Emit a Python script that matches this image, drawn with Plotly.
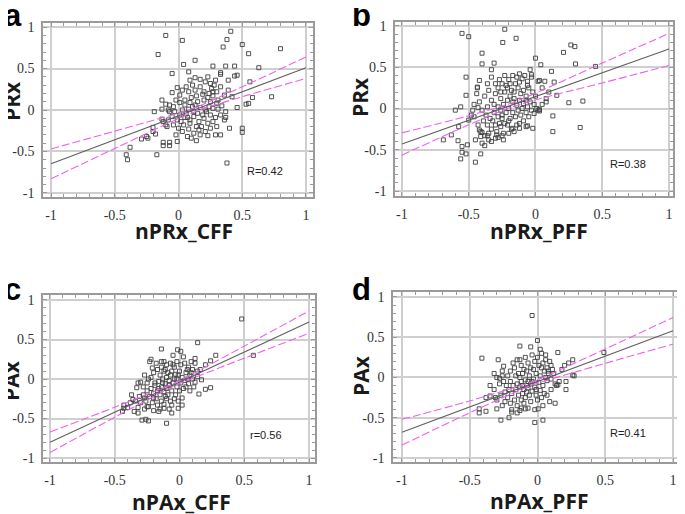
import plotly.graph_objects as go

# ---------------- data ----------------
a_points = [
    (-0.10, 0.90), (0.03, 0.84), (-0.16, 0.67), (0.41, 0.95), (0.38, 0.85), (0.35, 0.76),
    (0.50, 0.79), (0.55, 0.68), (0.80, 0.74), (0.13, 0.60), (0.04, 0.55), (-0.05, 0.44),
    (0.27, 0.53), (0.37, 0.53), (0.44, 0.53), (0.63, 0.51), (0.08, 0.46), (0.33, 0.45),
    (0.33, 0.43), (0.46, 0.42), (0.44, 0.41), (0.39, 0.36), (0.56, 0.34), (0.73, 0.16),
    (0.58, 0.15), (0.55, 0.08), (0.53, 0.07), (0.46, 0.03), (0.50, -0.22), (0.50, -0.27),
    (0.38, -0.64), (0.40, -0.22), (0.33, -0.30), (0.29, -0.30), (0.23, -0.31), (0.14, -0.37),
    (0.10, -0.34), (-0.01, -0.38), (-0.07, -0.39), (-0.12, -0.39), (-0.12, -0.43), (-0.07, -0.43),
    (-0.17, -0.54), (-0.25, -0.32), (-0.24, -0.34), (-0.29, -0.35), (-0.38, -0.45), (-0.41, -0.54),
    (-0.40, -0.60), (-0.20, -0.21), (-0.20, -0.26), (-0.18, -0.29), (-0.19, -0.02), (-0.13, 0.12),
    (-0.13, 0.01), (-0.10, 0.07), (-0.07, 0.06), (-0.07, -0.02), (-0.13, -0.11), (-0.12, -0.14),
    (-0.01, 0.27), (-0.05, 0.21), (0.03, 0.24), (0.01, 0.18), (-0.02, 0.12), (-0.08, 0.00),
    (-0.04, 0.04), (0.09, 0.36), (0.13, 0.39), (0.17, 0.37), (0.21, 0.34), (0.25, 0.32),
    (0.23, 0.40), (0.29, 0.36), (0.33, 0.28), (0.30, 0.22), (0.26, 0.26), (0.17, 0.28),
    (0.13, 0.24), (0.08, 0.22), (0.06, 0.28), (0.10, 0.15), (0.14, 0.17), (0.20, 0.12),
    (0.23, 0.15), (0.27, 0.17), (0.31, 0.12), (0.36, 0.18), (0.39, 0.24), (0.42, 0.16),
    (0.34, 0.05), (0.37, -0.02), (0.33, -0.06), (0.29, -0.09), (0.25, -0.06), (0.21, 0.00),
    (0.17, 0.03), (0.13, 0.06), (0.09, 0.09), (0.05, 0.06), (0.03, 0.00), (0.01, -0.06),
    (0.05, -0.09), (0.09, -0.12), (0.12, -0.08), (0.16, -0.14), (0.20, -0.10), (0.23, -0.16),
    (0.27, -0.14), (0.30, -0.20), (0.36, -0.12), (0.37, -0.09), (-0.01, -0.12), (-0.04, -0.18),
    (0.00, -0.22), (0.03, -0.26), (0.08, -0.23), (0.12, -0.28), (0.17, -0.30), (0.21, -0.26),
    (0.09, -0.16), (0.04, -0.18), (-0.08, -0.12), (-0.10, -0.18), (-0.05, -0.08), (-0.09, -0.20),
    (-0.02, -0.30), (0.07, -0.32), (0.14, -0.20), (0.18, -0.20), (0.12, -0.02), (0.15, -0.04),
    (0.19, -0.06), (0.24, 0.04), (0.27, 0.02), (0.31, 0.01), (0.30, 0.08), (0.25, 0.10),
    (0.08, 0.01), (0.05, 0.12), (0.11, 0.30), (0.20, 0.22), (0.24, 0.20), (0.27, 0.22),
    (0.02, -0.14), (0.06, -0.04), (0.15, 0.10), (0.22, -0.02), (0.11, 0.04), (0.19, 0.19),
    (0.28, 0.30), (0.16, -0.24), (0.25, -0.22), (0.01, 0.09), (-0.03, -0.02), (0.07, -0.09),
]

b_points = [
    (-0.55, 0.91), (-0.50, 0.87), (-0.23, 0.96), (-0.245, 0.80), (-0.145, 0.85), (-0.40, 0.67),
    (-0.40, 0.54), (-0.31, 0.55), (-0.33, 0.47), (-0.52, 0.38), (-0.42, 0.34), (-0.435, 0.26),
    (-0.435, 0.25), (-0.52, 0.16), (-0.60, -0.02), (-0.56, 0.02), (-0.47, -0.02), (-0.50, -0.14),
    (-0.575, -0.22), (-0.63, -0.32), (-0.69, -0.38), (-0.58, -0.39), (-0.55, -0.46), (-0.55, -0.53),
    (-0.51, -0.44), (-0.52, -0.55), (-0.56, -0.61), (-0.41, -0.55), (-0.45, -0.65), (0.00, 0.61),
    (0.04, 0.53), (0.12, 0.45), (0.21, 0.68), (0.265, 0.77), (0.295, 0.75), (0.30, 0.54),
    (0.45, 0.51), (0.14, 0.32), (0.07, 0.33), (0.03, 0.34), (0.16, 0.16), (0.25, 0.07),
    (0.355, 0.09), (0.13, -0.09), (0.13, -0.28), (0.335, -0.23), (-0.03, 0.41), (-0.04, 0.47),
    (0.02, -0.02), (0.03, -0.01), (-0.02, -0.24), (-0.07, -0.22), (-0.06, -0.21), (-0.17, -0.24),
    (-0.12, -0.24), (-0.29, -0.32), (-0.25, -0.33), (-0.30, -0.36), (-0.38, -0.45), (-0.41, -0.34),
    (-0.40, -0.29), (-0.35, -0.38), (-0.36, -0.33), (-0.42, -0.26), (-0.46, -0.10), (-0.43, 0.01),
    (-0.38, 0.15), (-0.35, 0.22), (-0.33, 0.10), (-0.30, 0.18), (-0.28, 0.25), (-0.25, 0.30),
    (-0.22, 0.28), (-0.20, 0.35), (-0.17, 0.40), (-0.14, 0.38), (-0.12, 0.42), (-0.10, 0.36),
    (-0.08, 0.40), (-0.06, 0.33), (-0.03, 0.38), (-0.15, 0.30), (-0.18, 0.22), (-0.23, 0.20),
    (-0.26, 0.12), (-0.31, 0.05), (-0.36, 0.02), (-0.40, -0.02), (-0.42, 0.08), (-0.37, -0.08),
    (-0.34, -0.12), (-0.31, -0.05), (-0.28, -0.10), (-0.26, -0.02), (-0.24, 0.05), (-0.21, 0.10),
    (-0.19, 0.15), (-0.16, 0.20), (-0.13, 0.25), (-0.11, 0.18), (-0.09, 0.22), (-0.07, 0.15),
    (-0.05, 0.25), (-0.02, 0.20), (0.00, 0.15), (-0.01, 0.05), (-0.04, 0.08), (-0.06, 0.02),
    (-0.09, 0.06), (-0.12, 0.10), (-0.14, 0.04), (-0.17, 0.08), (-0.20, 0.00), (-0.22, -0.05),
    (-0.25, -0.12), (-0.27, -0.18), (-0.30, -0.20), (-0.33, -0.25), (-0.36, -0.20), (-0.39, -0.15),
    (-0.41, -0.28), (-0.38, -0.33), (-0.35, -0.30), (-0.32, -0.15), (-0.29, -0.28), (-0.26, -0.22),
    (-0.24, -0.30), (-0.21, -0.20), (-0.19, -0.12), (-0.17, -0.05), (-0.15, -0.10), (-0.13, -0.02),
    (-0.11, -0.08), (-0.09, -0.15), (-0.07, -0.05), (-0.05, -0.10), (-0.03, -0.02), (-0.01, -0.06),
    (0.01, 0.00), (0.03, -0.03), (0.05, 0.05), (-0.07, 0.10), (-0.10, 0.00), (-0.18, -0.25),
    (-0.20, -0.30), (-0.23, -0.18), (-0.14, -0.20), (-0.12, -0.18), (-0.16, -0.28), (-0.28, 0.02),
    (-0.30, 0.30), (-0.27, 0.35), (-0.23, 0.40), (-0.19, 0.30), (-0.33, 0.38), (-0.36, 0.30),
    (-0.44, 0.18), (-0.46, 0.05), (-0.48, -0.08), (-0.43, -0.20), (-0.45, -0.38), (-0.40, -0.42),
    (-0.33, -0.40), (-0.28, -0.35), (-0.24, -0.38), (-0.26, 0.20), (-0.21, 0.25), (-0.12, 0.32),
    (-0.06, 0.28), (-0.25, -0.08), (-0.20, -0.15), (-0.16, 0.12), (0.08, 0.12), (0.05, 0.25),
    (0.02, 0.33), (0.10, 0.20), (0.08, 0.08),
]

c_points = [
    (0.48, 0.76), (0.57, 0.30), (0.14, 0.46), (-0.14, 0.38), (-0.015, 0.37), (0.01, 0.35),
    (-0.22, 0.25), (-0.23, 0.22), (-0.12, 0.22), (0.28, 0.30), (0.24, 0.23), (0.20, 0.18),
    (0.17, -0.01), (0.24, -0.11), (0.20, -0.13), (0.15, -0.19), (-0.32, -0.05), (-0.33, -0.11),
    (-0.36, -0.26), (-0.43, -0.33), (-0.43, -0.37), (-0.44, -0.41), (-0.29, -0.52), (-0.26, -0.51),
    (-0.24, -0.53), (-0.10, -0.56), (-0.35, -0.41), (-0.32, -0.43), (-0.25, -0.35), (-0.16, -0.41),
    (-0.12, -0.37), (-0.06, -0.43), (-0.01, -0.37), (0.02, -0.33),
    (-0.28, -0.10), (-0.25, -0.05), (-0.22, 0.02), (-0.20, 0.08), (-0.17, 0.12), (-0.14, 0.15),
    (-0.12, 0.10), (-0.10, 0.18), (-0.07, 0.20), (-0.04, 0.15), (-0.02, 0.22), (0.01, 0.18),
    (0.04, 0.20), (0.07, 0.15), (0.10, 0.12), (0.12, 0.20), (0.14, 0.10), (0.08, 0.05),
    (0.05, 0.08), (0.02, 0.02), (-0.01, 0.05), (-0.04, 0.00), (-0.07, 0.05), (-0.10, 0.02),
    (-0.13, 0.00), (-0.16, -0.03), (-0.19, -0.08), (-0.22, -0.12), (-0.25, -0.15), (-0.28, -0.20),
    (-0.31, -0.22), (-0.34, -0.28), (-0.26, -0.28), (-0.23, -0.22), (-0.20, -0.18), (-0.17, -0.15),
    (-0.14, -0.10), (-0.11, -0.06), (-0.08, -0.08), (-0.05, -0.05), (-0.02, -0.10), (0.01, -0.05),
    (0.04, -0.02), (0.07, -0.06), (0.10, 0.00), (0.12, -0.04), (-0.15, -0.20), (-0.12, -0.16),
    (-0.09, -0.20), (-0.06, -0.15), (-0.03, -0.20), (0.00, -0.15), (0.03, -0.12), (-0.18, -0.25),
    (-0.14, -0.28), (-0.10, -0.25), (-0.07, -0.28), (-0.04, -0.25), (-0.01, -0.28), (-0.21, -0.30),
    (-0.24, -0.35), (-0.17, -0.33), (-0.12, -0.32), (-0.06, -0.33), (0.02, -0.24), (-0.30, -0.30),
    (-0.37, -0.20), (-0.38, -0.30), (-0.40, -0.36), (-0.32, -0.36), (-0.27, -0.38), (-0.20, -0.40),
    (-0.15, -0.38), (-0.08, -0.38), (-0.18, 0.20), (-0.15, 0.05), (-0.11, 0.12), (-0.06, 0.10),
    (-0.03, 0.06), (0.06, 0.12), (0.09, 0.22), (0.12, 0.26), (0.03, 0.28), (-0.05, 0.30),
    (-0.10, -0.12), (-0.19, -0.05), (-0.24, 0.00), (-0.27, 0.05), (-0.21, 0.14), (-0.30, -0.04),
    (0.00, 0.10), (0.05, -0.10), (0.08, -0.15), (0.11, -0.10), (0.14, 0.03), (0.16, 0.12),
    (-0.08, -0.02), (-0.13, -0.05), (-0.02, 0.00), (-0.16, -0.12), (-0.09, 0.08), (0.06, 0.00),
    (-0.20, -0.24), (-0.27, -0.24), (-0.11, -0.22), (0.09, 0.08), (-0.05, 0.18), (-0.14, 0.22),
]

d_points = [
    (-0.04, 0.77), (0.00, 0.46), (-0.13, 0.39), (-0.05, 0.38), (-0.41, 0.24), (-0.29, 0.22),
    (-0.13, 0.22), (-0.25, 0.14), (0.02, 0.35), (0.06, 0.28), (0.15, 0.31), (0.26, 0.22),
    (0.23, 0.18), (0.49, 0.31), (0.26, 0.03), (0.27, 0.02), (0.21, -0.05), (0.21, -0.15),
    (0.15, -0.09), (0.14, -0.10), (0.13, -0.32), (0.005, -0.39), (0.04, -0.53), (-0.02, -0.56),
    (-0.27, -0.53), (-0.21, -0.50), (-0.43, -0.39), (-0.43, -0.44), (-0.38, -0.42), (-0.35, -0.23),
    (-0.31, -0.25), (-0.30, -0.39), (-0.19, -0.43), (-0.15, -0.44), (-0.13, -0.41), (-0.09, -0.39),
    (-0.28, -0.01), (-0.26, 0.02), (-0.32, 0.05),
    (-0.25, -0.05), (-0.22, 0.02), (-0.20, 0.08), (-0.17, 0.12), (-0.14, 0.05), (-0.12, 0.15),
    (-0.10, 0.10), (-0.07, 0.18), (-0.05, 0.12), (-0.02, 0.20), (0.01, 0.15), (0.04, 0.18),
    (0.07, 0.12), (0.09, 0.20), (0.11, 0.10), (0.08, 0.05), (0.05, 0.08), (0.02, 0.02),
    (-0.01, 0.05), (-0.03, -0.02), (-0.06, 0.02), (-0.09, -0.03), (-0.12, -0.05), (-0.15, -0.08),
    (-0.18, -0.10), (-0.21, -0.15), (-0.24, -0.18), (-0.27, -0.22), (-0.22, -0.25), (-0.19, -0.20),
    (-0.16, -0.15), (-0.13, -0.12), (-0.10, -0.15), (-0.08, -0.10), (-0.05, -0.08), (-0.02, -0.12),
    (0.01, -0.06), (0.04, -0.10), (0.07, -0.04), (0.10, -0.02), (-0.14, -0.22), (-0.11, -0.20),
    (-0.08, -0.18), (-0.06, -0.22), (-0.09, -0.25), (-0.12, -0.28), (-0.04, -0.17), (-0.01, -0.22),
    (0.02, -0.16), (0.05, -0.20), (-0.17, -0.28), (-0.20, -0.32), (-0.15, -0.35), (-0.10, -0.32),
    (-0.05, -0.30), (0.00, -0.28), (0.03, -0.25), (-0.24, -0.30), (-0.26, -0.35), (-0.19, -0.40),
    (-0.30, -0.28), (-0.32, -0.15), (-0.28, -0.08), (-0.26, 0.08), (-0.30, 0.00), (-0.18, 0.18),
    (-0.15, 0.22), (-0.09, 0.25), (-0.04, 0.28), (0.00, 0.25), (0.03, 0.30), (0.06, 0.22),
    (0.10, 0.15), (0.12, 0.05), (0.13, -0.08), (0.10, -0.15), (0.07, -0.22), (0.04, -0.35),
    (-0.07, -0.38), (-0.13, 0.00), (-0.16, 0.02), (-0.07, -0.05), (-0.03, 0.10), (0.03, 0.12),
    (0.06, 0.00), (-0.11, 0.05), (-0.20, -0.05), (-0.23, -0.10), (-0.08, 0.08), (-0.01, -0.15),
    (0.08, 0.08), (-0.12, -0.38), (-0.02, -0.40), (0.09, -0.30), (-0.35, -0.10), (-0.38, -0.25),
    (0.16, -0.05), (0.18, 0.10), (0.20, 0.15), (-0.07, -0.13), (-0.04, -0.05), (-0.11, -0.10),
]

# regression line and 95% band
a_fit_x = [-1, -0.5, 0, 0.15, 0.5, 1]
a_fit_y = [-0.65, -0.36, -0.07, 0.017, 0.22, 0.51]
a_up_y = [-0.47, -0.255, -0.036, 0.042, 0.28, 0.64]
a_lo_y = [-0.83, -0.465, -0.104, -0.008, 0.16, 0.38]

b_fit_x = [-1, -0.5, -0.2, 0, 0.5, 1]
b_fit_y = [-0.43, -0.1425, 0.03, 0.145, 0.4325, 0.72]
b_up_y = [-0.295, -0.087, 0.055, 0.186, 0.55, 0.91]
b_lo_y = [-0.565, -0.198, 0.005, 0.104, 0.31, 0.52]

c_fit_x = [-1, -0.5, -0.05, 0, 0.5, 1]
c_fit_y = [-0.80, -0.42, -0.078, -0.04, 0.34, 0.72]
c_up_y = [-0.67, -0.357, -0.061, -0.022, 0.416, 0.862]
c_lo_y = [-0.93, -0.483, -0.095, -0.058, 0.264, 0.578]

d_fit_x = [-1, -0.5, -0.05, 0, 0.5, 1]
d_fit_y = [-0.68, -0.365, -0.0815, -0.05, 0.265, 0.58]
d_up_y = [-0.52, -0.291, -0.06, -0.029, 0.354, 0.746]
d_lo_y = [-0.84, -0.439, -0.10, -0.071, 0.176, 0.414]

letters = ["a", "b", "c", "d"]
x_titles = ["nPRx_CFF", "nPRx_PFF", "nPAx_CFF", "nPAx_PFF"]
y_titles = ["PRx", "PRx", "PAx", "PAx"]
r_labels = ["R=0.42", "R=0.38", "r=0.56", "R=0.41"]
tick_vals = [-1, -0.5, 0, 0.5, 1]
tick_text = ["-1", "-0.5", "0", "0.5", "1"]

# ---------------- layout geometry ----------------
W, H = 685, 514
OX, OY = 8, 8  # default body margin of the html page
# frame pixel boxes (left, right, top, bottom) and axis ranges
frames = [(43, 313, 23, 197), (395, 673, 22, 196), (43, 315, 295, 462), (393, 682, 292, 462)]
xranges = [[-1.063, 1.055], [-1.052, 1.03], [-1.054, 1.046], [-1.066, 1.066]]
yranges = [[-1.05, 1.05], [-1.06, 1.048], [-1.05, 1.063], [-1.05, 1.062]]
r_pos = [(0.675, -0.735), (0.695, -0.67), (0.666, -0.705), (0.668, -0.69)]
xtitle_pos = [(184, 231), (539, 231), (182, 502), (539, 501)]
ytitle_pos = [(12, 101), (360, 97), (11, 381), (361, 375)]
letter_pos = [(12.5, 16), (361.5, 16), (12.5, 289), (361.5, 289)]


def px(xp):
    return (xp - OX) / W


def py(yp):
    return 1 - (yp - OY) / H


panels = [
    (a_points, a_fit_x, a_fit_y, a_up_y, a_lo_y),
    (b_points, b_fit_x, b_fit_y, b_up_y, b_lo_y),
    (c_points, c_fit_x, c_fit_y, c_up_y, c_lo_y),
    (d_points, d_fit_x, d_fit_y, d_up_y, d_lo_y),
]

fig = go.Figure()
layout = dict(
    width=W, height=H, margin=dict(l=0, r=0, t=0, b=0, autoexpand=False),
    paper_bgcolor="white", plot_bgcolor="white", showlegend=False,
)
annotations = []
PINK = "#f060f0"

for i, (pts, fx, fy, uy, ly) in enumerate(panels):
    n = "" if i == 0 else str(i + 1)
    xa, ya = "x" + n, "y" + n
    xs = [p[0] for p in pts]
    ys = [p[1] for p in pts]
    fig.add_trace(go.Scatter(x=xs, y=ys, mode="markers", xaxis=xa, yaxis=ya,
                             marker=dict(symbol="square-open", size=4, color="#404040",
                                         line=dict(width=0.9, color="#404040"))))
    fig.add_trace(go.Scatter(x=fx, y=fy, mode="lines", xaxis=xa, yaxis=ya,
                             line=dict(color="#606060", width=1.1)))
    for by in (uy, ly):
        fig.add_trace(go.Scatter(x=fx, y=by, mode="lines", xaxis=xa, yaxis=ya,
                                 line=dict(color=PINK, width=1.1, dash="8px,3px", shape="spline")))
    l, r, t, b = frames[i]
    common = dict(
        showline=True, linecolor="#9a9a9a", linewidth=1.5, mirror="allticks",
        ticks="inside", ticklen=4, tickcolor="#9a9a9a", tickwidth=1,
        showgrid=True, gridcolor="#cfcfcf", gridwidth=1.5, zeroline=False,
        tickvals=tick_vals, ticktext=tick_text,
        tickfont=dict(family="Liberation Serif", size=14, color="#333333"),
        minor=dict(dtick=0.1, tick0=0, ticks="inside", ticklen=3, tickcolor="#9a9a9a", showgrid=False),
        fixedrange=True, ticklabelstandoff=4, automargin=False,
    )
    layout["xaxis" + n] = dict(common, domain=[px(l), px(r)], range=xranges[i], anchor=ya)
    layout["yaxis" + n] = dict(common, domain=[py(b), py(t)], range=yranges[i], anchor=xa)

    annotations.append(dict(x=r_pos[i][0], y=r_pos[i][1], xref=xa, yref=ya, text=r_labels[i],
                            xanchor="center", yanchor="middle", showarrow=False,
                            font=dict(family="Liberation Sans", size=11, color="#222222")))
    tx, ty = xtitle_pos[i]
    annotations.append(dict(x=px(tx), y=py(ty), xref="paper", yref="paper", text="<b>%s</b>" % x_titles[i],
                            xanchor="center", yanchor="middle", showarrow=False,
                            font=dict(family="Open Sans", size=21, color="#1a1a1a")))
    tx, ty = ytitle_pos[i]
    annotations.append(dict(x=px(tx), y=py(ty), xref="paper", yref="paper", text="<b>%s</b>" % y_titles[i],
                            xanchor="center", yanchor="middle", textangle=-90, showarrow=False,
                            font=dict(family="Open Sans", size=21, color="#1a1a1a")))
    tx, ty = letter_pos[i]
    annotations.append(dict(x=px(tx), y=py(ty), xref="paper", yref="paper", text="<b>%s</b>" % letters[i],
                            xanchor="center", yanchor="middle", showarrow=False,
                            font=dict(family="Liberation Sans", size=31, color="black")))

layout["annotations"] = annotations
fig.update_layout(**layout)
fig.write_html("out.html")
